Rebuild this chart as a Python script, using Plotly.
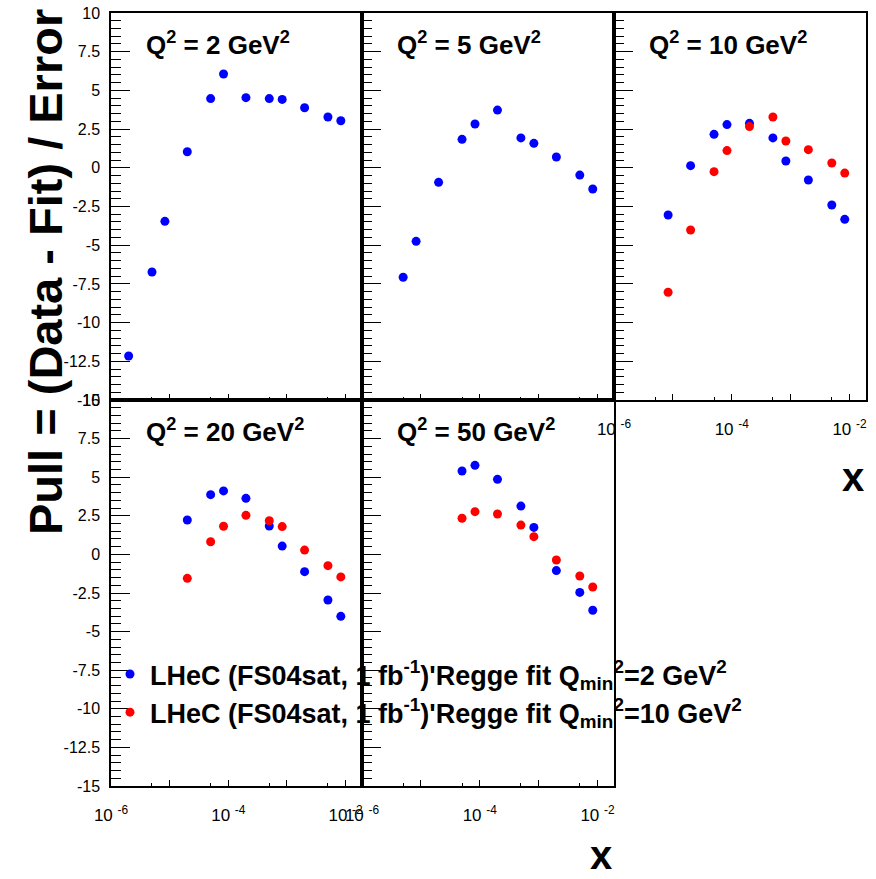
import plotly.graph_objects as go

# ---------------- data ----------------
x_q2 = [2e-6, 5e-6, 8.3e-6, 2e-5, 5e-5, 8.3e-5, 2e-4, 5e-4, 8.3e-4, 2e-3, 5e-3, 8.3e-3]
blue_q2 = [-12.16, -6.73, -3.46, 1.04, 4.47, 6.06, 4.53, 4.47, 4.42, 3.88, 3.28, 3.04]

x_q5 = [5e-6, 8.3e-6, 2e-5, 5e-5, 8.3e-5, 2e-4, 5e-4, 8.3e-4, 2e-3, 5e-3, 8.3e-3]
blue_q5 = [-7.07, -4.75, -0.94, 1.84, 2.83, 3.73, 1.93, 1.58, 0.70, -0.47, -1.37]

x_q10 = [8.3e-6, 2e-5, 5e-5, 8.3e-5, 2e-4, 5e-4, 8.3e-4, 2e-3, 5e-3, 8.3e-3]
blue_q10 = [-3.05, 0.14, 2.16, 2.79, 2.87, 1.93, 0.44, -0.79, -2.40, -3.33]
red_q10 = [-8.04, -4.02, -0.25, 1.11, 2.66, 3.28, 1.73, 1.17, 0.31, -0.34]

x_q20 = [2e-5, 5e-5, 8.3e-5, 2e-4, 5e-4, 8.3e-4, 2e-3, 5e-3, 8.3e-3]
blue_q20 = [2.23, 3.87, 4.11, 3.63, 1.84, 0.54, -1.12, -2.95, -4.01]
red_q20 = [-1.55, 0.82, 1.82, 2.53, 2.18, 1.80, 0.28, -0.73, -1.46]

x_q50 = [5e-5, 8.3e-5, 2e-4, 5e-4, 8.3e-4, 2e-3, 5e-3, 8.3e-3]
blue_q50 = [5.40, 5.77, 4.86, 3.13, 1.75, -1.05, -2.46, -3.62]
red_q50 = [2.34, 2.77, 2.62, 1.90, 1.15, -0.36, -1.40, -2.11]

panel_titles = ["Q<sup>2</sup> = 2 GeV<sup>2</sup>", "Q<sup>2</sup> = 5 GeV<sup>2</sup>",
                "Q<sup>2</sup> = 10 GeV<sup>2</sup>", "Q<sup>2</sup> = 20 GeV<sup>2</sup>",
                "Q<sup>2</sup> = 50 GeV<sup>2</sup>"]
legend_blue = "<b>LHeC (FS04sat, 1 fb<sup>-1</sup>)'Regge fit Q<sub>min</sub><sup>2</sup>=2 GeV<sup>2</sup></b>"
legend_red = "<b>LHeC (FS04sat, 1 fb<sup>-1</sup>)'Regge fit Q<sub>min</sub><sup>2</sup>=10 GeV<sup>2</sup></b>"

y_tickvals = [-15, -12.5, -10, -7.5, -5, -2.5, 0, 2.5, 5, 7.5, 10]
y_ticktext = ["-15", "-12.5", "-10", "-7.5", "-5", "-2.5", "0", "2.5", "5", "7.5", "10"]
x_tickvals = [1e-6, 1e-5, 1e-4, 1e-3, 1e-2]
x_ticktext = ["10 <sup>-6</sup>", "", "10 <sup>-4</sup>", "", "10 <sup>-2</sup>"]
x_minorvals = [5e-6, 5e-5, 5e-4, 5e-3]

# ---------------- layout geometry ----------------
W, H = 876, 879
FONT = "Liberation Sans, Arial, sans-serif"
BLUE = "rgb(0,0,255)"
RED = "rgb(255,0,0)"

col_px = [(111, 362), (362, 614), (614, 866)]
row_px = [(13, 400), (400, 786)]

def xd(a, b):
    return [a / W, b / W]

def yd(top, bot):
    return [1 - bot / H, 1 - top / H]

panels = [(0, 0), (0, 1), (0, 2), (1, 0), (1, 1)]
show_xlabels = [False, False, True, True, True]

fig = go.Figure()

series = [
    [(x_q2, blue_q2, BLUE, None)],
    [(x_q5, blue_q5, BLUE, None)],
    [(x_q10, blue_q10, BLUE, None), (x_q10, red_q10, RED, None)],
    [(x_q20, blue_q20, BLUE, legend_blue), (x_q20, red_q20, RED, legend_red)],
    [(x_q50, blue_q50, BLUE, None), (x_q50, red_q50, RED, None)],
]

layout = dict(
    width=W, height=H,
    margin=dict(l=0, r=0, t=0, b=0, pad=0, autoexpand=False),
    paper_bgcolor="white", plot_bgcolor="rgba(0,0,0,0)",
    font=dict(family=FONT, color="black"),
    showlegend=True,
    legend=dict(x=110 / W, y=1 - 650 / H, xanchor="left", yanchor="top",
                bgcolor="rgba(0,0,0,0)", borderwidth=0,
                font=dict(family=FONT, size=27, color="black"),
                tracegroupgap=0, itemwidth=30),
    annotations=[],
)

for i, (r, c) in enumerate(panels):
    n = i + 1
    xa = "x" if n == 1 else f"x{n}"
    ya = "y" if n == 1 else f"y{n}"
    for (xs, ys, col, name) in series[i]:
        fig.add_trace(go.Scatter(
            x=xs, y=ys, mode="markers", xaxis=xa, yaxis=ya,
            marker=dict(symbol="circle", size=9, color=col, line=dict(width=0)),
            name=name if name else "", showlegend=bool(name),
        ))
    xl, xr = col_px[c]
    yt, yb = row_px[r]
    layout["xaxis" if n == 1 else f"xaxis{n}"] = dict(
        type="log", range=[-6, -1.72], domain=xd(xl, xr), anchor=ya,
        showline=True, linecolor="black", linewidth=1.5, mirror=True,
        ticks="inside", ticklen=6, tickwidth=1, tickcolor="black",
        tickmode="array", tickvals=x_tickvals, ticktext=x_ticktext,
        showticklabels=show_xlabels[i], ticklabelstandoff=13,
        tickfont=dict(family=FONT, size=17, color="black"),
        minor=dict(tickmode="array", tickvals=x_minorvals, ticks="inside",
                   ticklen=3, tickwidth=1, tickcolor="black", showgrid=False),
        showgrid=False, zeroline=False, fixedrange=True, automargin=False,
    )
    layout["yaxis" if n == 1 else f"yaxis{n}"] = dict(
        range=[-15, 10], domain=yd(yt, yb), anchor=xa,
        showline=True, linecolor="black", linewidth=1.5, mirror=True,
        ticks="inside", ticklen=19, tickwidth=1, tickcolor="black",
        tickmode="array", tickvals=y_tickvals, ticktext=y_ticktext,
        showticklabels=(c == 0), ticklabelstandoff=6,
        tickfont=dict(family=FONT, size=16, color="black"),
        minor=dict(tick0=0, dtick=0.5, ticks="inside", ticklen=10,
                   tickwidth=1, tickcolor="black", showgrid=False),
        showgrid=False, zeroline=False, fixedrange=True, automargin=False,
    )
    layout["annotations"].append(dict(
        text="<b>" + panel_titles[i] + "</b>", xref="paper", yref="paper",
        x=(xl + 33) / W, y=1 - (yt + 12) / H, xanchor="left", yanchor="top",
        showarrow=False, font=dict(family=FONT, size=26, color="black"),
    ))

# axis titles
layout["annotations"].append(dict(
    text="<b>Pull = (Data - Fit) / Error</b>", xref="paper", yref="paper",
    x=45 / W, y=1 - 272 / H, xanchor="center", yanchor="middle", textangle=-90,
    showarrow=False, font=dict(family=FONT, size=47, color="black"),
))
layout["annotations"].append(dict(
    text="<b>x</b>", xref="paper", yref="paper",
    x=614 / W, y=0, xanchor="right", yanchor="bottom",
    showarrow=False, font=dict(family=FONT, size=40, color="black"),
))
layout["annotations"].append(dict(
    text="<b>x</b>", xref="paper", yref="paper",
    x=866 / W, y=1 - 477 / H, xanchor="right", yanchor="middle",
    showarrow=False, font=dict(family=FONT, size=40, color="black"),
))

fig.update_layout(**layout)
fig.write_html("out.html")
